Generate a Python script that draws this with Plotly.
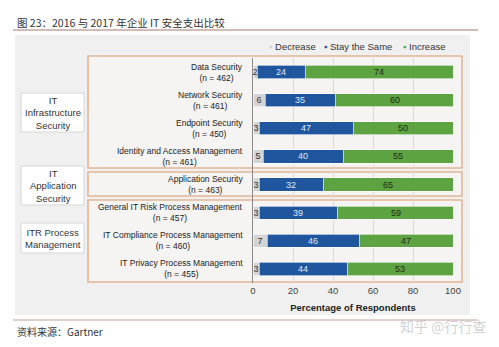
import plotly.graph_objects as go

categories = ["Data Security", "Network Security", "Endpoint Security",
              "Identity and Access Management", "Application Security",
              "General IT Risk Process Management", "IT Compliance Process Management",
              "IT Privacy Process Management"]
n_resp = [462, 461, 450, 461, 463, 457, 460, 455]
decrease = [2, 6, 3, 5, 3, 3, 7, 3]
same = [24, 35, 47, 40, 32, 39, 46, 44]
increase = [74, 60, 50, 55, 65, 59, 47, 53]
x_ticks = [0, 20, 40, 60, 80, 100]
groups = ["IT<br>Infrastructure<br>Security", "IT<br>Application<br>Security", "ITR Process<br>Management"]
series_names = ["Decrease", "Stay the Same", "Increase"]

W, H = 499, 347
PL, PR, PT, PB = 253, 453, 58, 283  # plot area in pixels

def px(x):
    return (x - PL) / (PR - PL)

def py(y):
    return (PB - y) / (PB - PT)

FONT = "Liberation Sans, Arial, sans-serif"
CJK = "Noto Sans CJK SC, sans-serif"
C_DEC, C_SAME, C_INC = "#d4d4d4", "#1f569e", "#5ea342"

fig = go.Figure()
for vals, name, col, tcol in [(decrease, series_names[0], C_DEC, "#333333"),
                              (same, series_names[1], C_SAME, "#dfe9f6"),
                              (increase, series_names[2], C_INC, "#1f2d16")]:
    fig.add_bar(y=categories, x=vals, orientation="h", name=name,
                marker=dict(color=col, line=dict(color="white", width=0.6)),
                text=vals, textposition="inside", insidetextanchor="middle", textangle=0,
                textfont=dict(color=tcol, size=9, family=FONT), showlegend=False)

shapes = []
# grey panel
shapes.append(dict(type="rect", xref="paper", yref="paper", x0=px(15), x1=px(470), y0=py(315), y1=py(35),
                   fillcolor="#f0f0f0", line=dict(width=0), layer="below"))
# group boxes
for (y0, y1) in [(56, 168), (172, 196), (200, 282)]:
    shapes.append(dict(type="rect", xref="paper", yref="paper", x0=px(88), x1=px(462), y0=py(y1), y1=py(y0),
                       fillcolor="#f5f4f3", line=dict(color="#e2b594", width=1.6), layer="below"))
# left group label boxes
left_boxes = [(93, 132), (166, 205), (223, 253)]
for (y0, y1) in left_boxes:
    shapes.append(dict(type="rect", xref="paper", yref="paper", x0=px(21), x1=px(84), y0=py(y1), y1=py(y0),
                       fillcolor="white", line=dict(color="#d6d6d6", width=1), layer="below"))
# title rules
shapes.append(dict(type="line", xref="paper", yref="paper", x0=px(13), x1=px(478), y0=py(30), y1=py(30),
                   line=dict(color="#a8786c", width=1)))
shapes.append(dict(type="line", xref="paper", yref="paper", x0=px(13), x1=px(478), y0=py(320), y1=py(320),
                   line=dict(color="#c4a097", width=1)))

ann = []
ann.append(dict(text="图 23：2016 与 2017 年企业 IT 安全支出比较", xref="paper", yref="paper",
                x=px(15), y=py(22), xanchor="left", yanchor="middle", showarrow=False,
                font=dict(family=CJK, size=10.5, color="#333333")))
ann.append(dict(text="资料来源：Gartner", xref="paper", yref="paper",
                x=px(15), y=py(331), xanchor="left", yanchor="middle", showarrow=False,
                font=dict(family=CJK, size=10, color="#333333")))
ann.append(dict(text="知乎 @行行查", xref="paper", yref="paper",
                x=px(488), y=py(326), xanchor="right", yanchor="middle", showarrow=False,
                font=dict(family=CJK, size=14, color="rgba(170,170,170,0.55)")))
# legend
legend_pos = [267, 322, 401]
for name, col, xp in zip(series_names, [C_DEC, C_SAME, C_INC], legend_pos):
    ann.append(dict(text=f"<span style='color:{col}'>▪</span> {name}", xref="paper", yref="paper",
                    x=px(xp), y=py(47), xanchor="left", yanchor="middle", showarrow=False,
                    font=dict(family=FONT, size=9.5, color="#333333")))
# category labels
for c, n in zip(categories, n_resp):
    ann.append(dict(text=f"{c}<br>(n = {n})", xref="paper", yref="y", x=px(245), y=c,
                    xanchor="right", yanchor="middle", align="center", showarrow=False,
                    font=dict(family=FONT, size=8.5, color="#222222")))
# group labels
for g, (y0, y1) in zip(groups, left_boxes):
    ann.append(dict(text=g, xref="paper", yref="paper", x=px(52.5), y=py((y0 + y1) / 2),
                    xanchor="center", yanchor="middle", align="center", showarrow=False,
                    font=dict(family=FONT, size=9.5, color="#333333")))

fig.update_layout(
    width=W, height=H, barmode="stack", bargap=0.53,
    margin=dict(l=PL, r=W - PR, t=PT, b=H - PB, pad=0),
    paper_bgcolor="white", plot_bgcolor="rgba(0,0,0,0)",
    shapes=shapes, annotations=ann, showlegend=False,
    uniformtext=dict(minsize=9, mode="show"),
    xaxis=dict(range=[0, 100], tickvals=x_ticks, showgrid=True, gridcolor="#d9d9d9", gridwidth=1,
               zeroline=False, ticks="", tickfont=dict(family=FONT, size=9.5, color="#444444"),
               title=dict(text="<b>Percentage of Respondents</b>", standoff=9,
                          font=dict(family=FONT, size=9.5, color="#222222"))),
    yaxis=dict(autorange="reversed", showticklabels=False, showgrid=False, zeroline=False,
               showline=True, linecolor="#8a8a8a", linewidth=1, ticks=""),
)

fig.write_html("out.html")
